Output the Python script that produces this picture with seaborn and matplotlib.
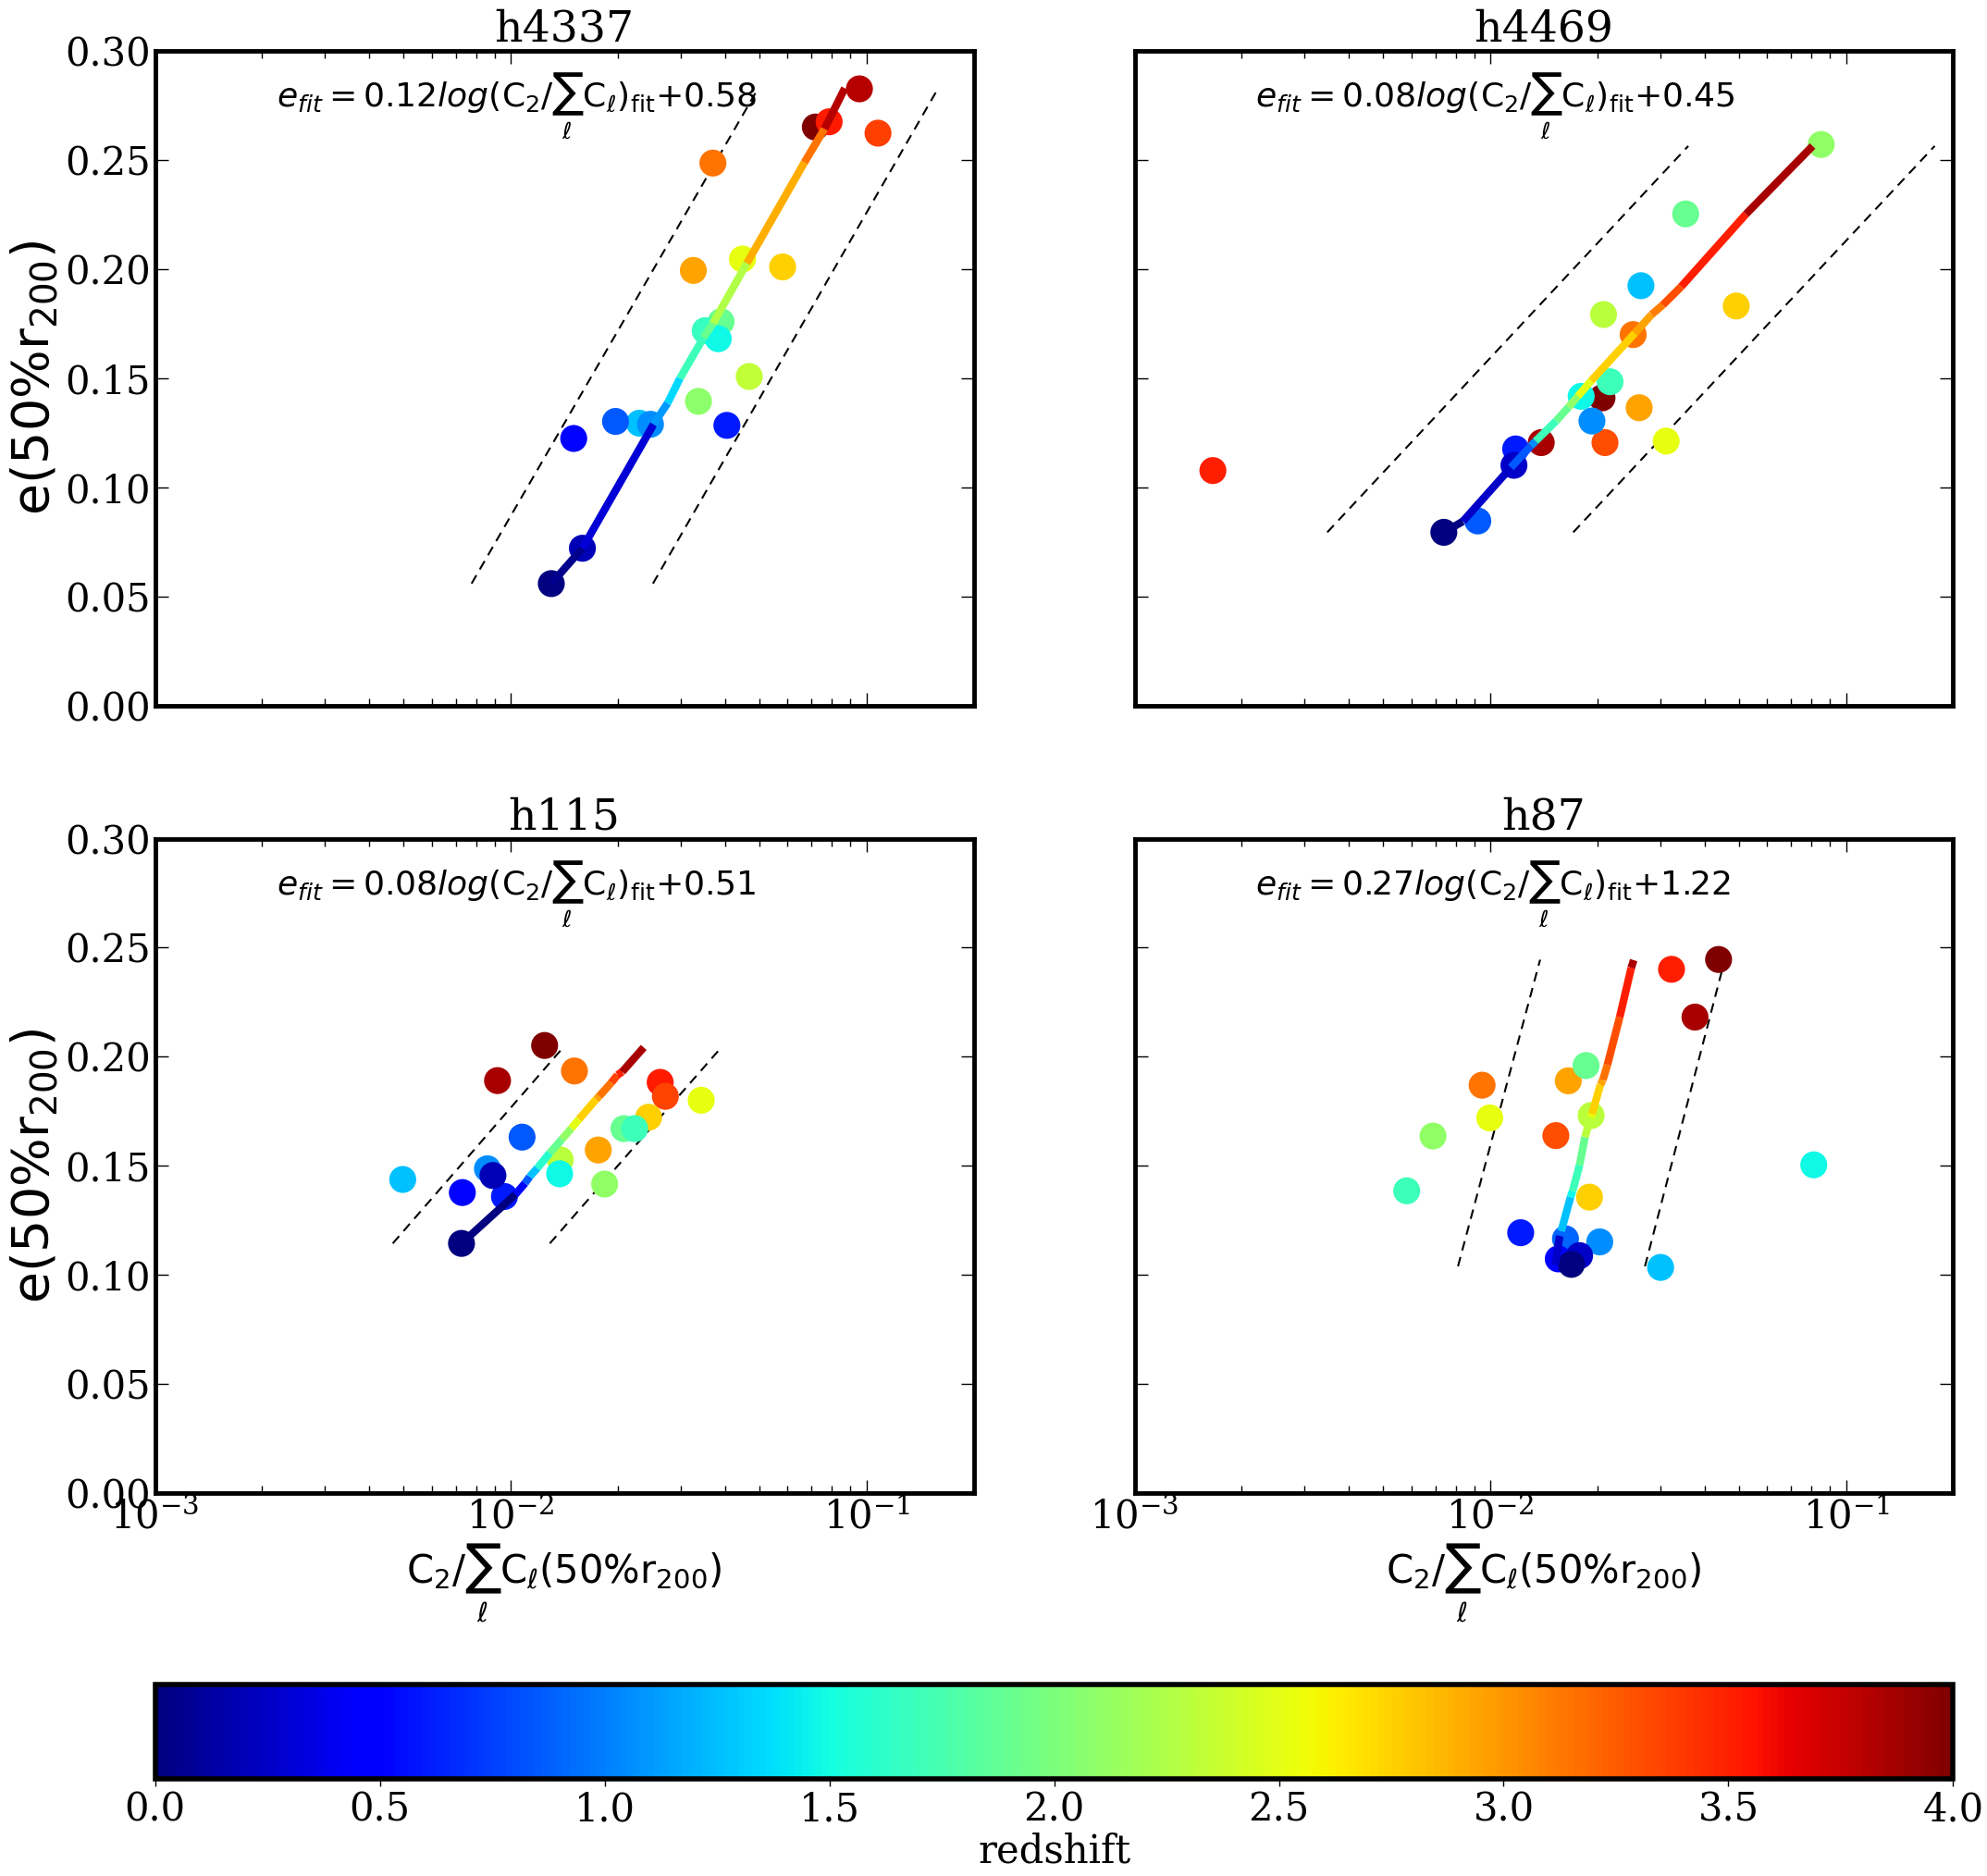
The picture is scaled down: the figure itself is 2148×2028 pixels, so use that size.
import numpy as np
import pandas as pd
import matplotlib
matplotlib.use("Agg")
import matplotlib.pyplot as plt
import seaborn as sns
from matplotlib.collections import LineCollection
from matplotlib.colors import Normalize
from matplotlib.cm import ScalarMappable
from matplotlib.ticker import MultipleLocator, FormatStrFormatter

# -----------------------------
# Data
# -----------------------------
panel_names = ["h4337", "h4469", "h115", "h87"]
fit_slopes = ["0.12", "0.08", "0.08", "0.27"]
fit_offsets = ["0.58", "0.45", "0.51", "1.22"]

# h4337
h4337_x = [0.0130, 0.0159, 0.01503, 0.0197, 0.0230, 0.0247, 0.0405, 0.0337, 0.0468, 0.0352,
           0.0383, 0.0390, 0.0326, 0.0448, 0.0581, 0.0370, 0.0718, 0.0785, 0.0955, 0.1077]
h4337_e = [0.0558, 0.0720, 0.1223, 0.1301, 0.1293, 0.1288, 0.1283, 0.1393, 0.1507, 0.1717,
           0.1680, 0.1758, 0.1993, 0.2045, 0.2009, 0.2485, 0.2650, 0.2674, 0.2825, 0.2622]
h4337_z = [0.0, 0.2, 0.5, 0.85, 1.25, 1.05, 0.6, 2.08, 2.33, 1.67,
           1.47, 1.9, 2.94, 2.52, 2.76, 3.15, 4.0, 3.53, 3.81, 3.37]
h4337_fit_x = [0.0130, 0.0159, 0.0252, 0.0276, 0.0299, 0.0348, 0.0370, 0.0461, 0.0669, 0.0762, 0.0869]
h4337_fit_e = [0.0558, 0.0720, 0.1288, 0.1385, 0.1499, 0.1685, 0.1750, 0.2026, 0.2488, 0.2642, 0.2828]
h4337_fit_z = [0.05, 0.3, 1.1, 1.35, 1.7, 1.9, 2.25, 2.9, 3.15, 3.8]
h4337_lo_x = [0.00776, 0.0493]
h4337_hi_x = [0.0251, 0.158]
h4337_band_e = [0.0558, 0.282]

# h4469
h4469_x = [0.00166, 0.0074, 0.00922, 0.01178, 0.01165, 0.0139, 0.0180, 0.0206, 0.0193, 0.0217,
           0.0210, 0.0208, 0.0252, 0.0262, 0.0265, 0.0312, 0.0354, 0.0491, 0.0851]
h4469_e = [0.1076, 0.0793, 0.0845, 0.1175, 0.1100, 0.1204, 0.1416, 0.1409, 0.1303, 0.1483,
           0.1204, 0.1791, 0.1699, 0.1364, 0.1923, 0.1211, 0.2252, 0.1830, 0.2570]
h4469_z = [3.5, 0.0, 0.85, 0.6, 0.25, 3.85, 1.47, 4.0, 1.05, 1.7,
           3.3, 2.3, 3.15, 2.95, 1.25, 2.52, 1.9, 2.76, 2.1]
h4469_fit_x = [0.00740, 0.00837, 0.01142, 0.0130, 0.0134, 0.0153, 0.0166, 0.0176,
               0.0192, 0.0255, 0.0284, 0.0305, 0.0344, 0.0523, 0.0805]
h4469_fit_e = [0.0793, 0.0843, 0.1090, 0.1189, 0.1211, 0.1303, 0.1367, 0.1416,
               0.1487, 0.1706, 0.1791, 0.1834, 0.1919, 0.2251, 0.2563]
h4469_fit_z = [0.0, 0.25, 0.85, 1.05, 1.7, 1.9, 2.1, 2.5, 2.75, 2.95, 3.1, 3.3, 3.5, 3.85]
h4469_lo_x = [0.00348, 0.0360]
h4469_hi_x = [0.0171, 0.1774]
h4469_band_e = [0.0793, 0.2563]

# h115
h115_x = [0.00497, 0.00731, 0.00727, 0.00860, 0.00891, 0.00960, 0.00918, 0.01076, 0.01245, 0.0151,
          0.01378, 0.01372, 0.01762, 0.01836, 0.0208, 0.0223, 0.0244, 0.0263, 0.0272, 0.0343]
h115_e = [0.1438, 0.1378, 0.1145, 0.1487, 0.1456, 0.1360, 0.1891, 0.1632, 0.2052, 0.1935,
          0.1528, 0.1464, 0.1573, 0.1417, 0.1671, 0.1671, 0.1723, 0.1883, 0.1819, 0.1801]
h115_z = [1.25, 0.5, 0.0, 1.05, 0.2, 0.6, 3.85, 0.85, 4.0, 3.15,
          2.3, 1.47, 2.95, 2.1, 1.9, 1.7, 2.75, 3.53, 3.35, 2.52]
h115_fit_x = [0.00727, 0.01030, 0.01097, 0.01130, 0.01188, 0.01288, 0.01394, 0.01480,
              0.01555, 0.01737, 0.01772, 0.01918, 0.01996, 0.02056, 0.02365]
h115_fit_e = [0.1145, 0.1369, 0.1421, 0.1451, 0.1490, 0.1560, 0.1623, 0.1672,
              0.1714, 0.1805, 0.1819, 0.1882, 0.1917, 0.1931, 0.2043]
h115_fit_z = [0.0, 0.5, 0.85, 1.25, 1.6, 1.9, 2.1, 2.5, 2.75, 2.95, 3.15, 3.35, 3.5, 3.85]
h115_lo_x = [0.00466, 0.01409]
h115_hi_x = [0.01288, 0.0392]
h115_band_e = [0.1145, 0.2046]

# h87
h87_x = [0.00582, 0.00690, 0.00948, 0.00996, 0.01217, 0.01528, 0.01656, 0.01858, 0.0192, 0.0190,
         0.01626, 0.01552, 0.01782, 0.0169, 0.0203, 0.0301, 0.0323, 0.0376, 0.0438, 0.0811]
h87_e = [0.1386, 0.1637, 0.1870, 0.1720, 0.1194, 0.1639, 0.1890, 0.1960, 0.1731, 0.1357,
         0.1166, 0.1074, 0.1089, 0.1049, 0.1152, 0.1035, 0.2401, 0.2182, 0.2446, 0.1505]
h87_z = [1.7, 2.1, 3.15, 2.52, 0.6, 3.3, 2.95, 1.9, 2.3, 2.75,
         0.9, 0.5, 0.25, 0.0, 1.05, 1.25, 3.5, 3.85, 4.0, 1.47]
h87_fit_x = [0.01521, 0.01567, 0.01582, 0.01680, 0.01703, 0.01782, 0.01845, 0.01913,
             0.01932, 0.02038, 0.02071, 0.02133, 0.02310, 0.02489, 0.02529]
h87_fit_e = [0.1046, 0.1180, 0.1201, 0.1357, 0.1385, 0.1505, 0.1632, 0.1723,
             0.1738, 0.1872, 0.1893, 0.1963, 0.2182, 0.2408, 0.2443]
h87_fit_z = [0.25, 0.9, 1.25, 1.47, 1.7, 1.9, 2.3, 2.52, 2.75, 2.95, 3.15, 3.3, 3.5, 3.85]
h87_lo_x = [0.00811, 0.01380]
h87_hi_x = [0.0272, 0.0456]
h87_band_e = [0.1040, 0.2445]

panels = [
    (h4337_x, h4337_e, h4337_z, h4337_fit_x, h4337_fit_e, h4337_fit_z, h4337_lo_x, h4337_hi_x, h4337_band_e),
    (h4469_x, h4469_e, h4469_z, h4469_fit_x, h4469_fit_e, h4469_fit_z, h4469_lo_x, h4469_hi_x, h4469_band_e),
    (h115_x, h115_e, h115_z, h115_fit_x, h115_fit_e, h115_fit_z, h115_lo_x, h115_hi_x, h115_band_e),
    (h87_x, h87_e, h87_z, h87_fit_x, h87_fit_e, h87_fit_z, h87_lo_x, h87_hi_x, h87_band_e),
]

cbar_ticks = [0.0, 0.5, 1.0, 1.5, 2.0, 2.5, 3.0, 3.5, 4.0]

# -----------------------------
# Style
# -----------------------------
sns.set_style("ticks")
plt.rcParams["font.family"] = ["DejaVu Serif"]
plt.rcParams["mathtext.fontset"] = "dejavusans"
plt.rcParams.update({
    "axes.edgecolor": "black",
    "axes.labelcolor": "black",
    "text.color": "black",
    "xtick.color": "black",
    "ytick.color": "black",
})

norm = Normalize(vmin=0, vmax=4)
cmap = plt.get_cmap("jet")

fig = plt.figure(figsize=(21.48, 20.28), dpi=100)

lefts = [0.078, 0.571, 0.078, 0.571]
bottoms = [0.624, 0.624, 0.204, 0.204]
w, h = 0.412, 0.349

for i, (px, pe, pz, fx, fe, fz, lo_x, hi_x, band_e) in enumerate(panels):
    ax = fig.add_axes([lefts[i], bottoms[i], w, h])

    df = pd.DataFrame({"x": px, "e": pe, "z": pz}).sort_values("z", ascending=False)
    sns.scatterplot(data=df, x="x", y="e", hue="z", palette=cmap, hue_norm=norm,
                    s=440, linewidth=0, legend=False, ax=ax, zorder=2)

    # fitted relation, coloured by redshift
    pts = np.column_stack([fx, fe])
    segs = np.stack([pts[:-1], pts[1:]], axis=1)
    lc = LineCollection(segs, cmap=cmap, norm=norm, linewidths=6, zorder=3)
    lc.set_array(np.array(fz))
    ax.add_collection(lc)

    # dashed envelope
    ax.plot(lo_x, band_e, color="k", ls="--", lw=1.5, dashes=(5, 3.5), zorder=1)
    ax.plot(hi_x, band_e, color="k", ls="--", lw=1.5, dashes=(5, 3.5), zorder=1)

    ax.set_xscale("log")
    ax.set_xlim(1e-3, 0.2)
    ax.set_ylim(0, 0.30)
    ax.yaxis.set_major_locator(MultipleLocator(0.05))
    ax.yaxis.set_major_formatter(FormatStrFormatter("%.2f"))

    ax.tick_params(which="both", direction="in", top=True, right=True, labelsize=30)
    ax.tick_params(which="major", length=10, width=1)
    ax.tick_params(which="minor", length=6, width=1)
    for sp in ax.spines.values():
        sp.set_linewidth(3.5)
        sp.set_color("black")

    ax.set_title(panel_names[i], fontsize=34, pad=4)

    txt = (r"$e_{fit} = " + fit_slopes[i] +
           r"log(\mathrm{C}_2/\sum_{\ell}\mathrm{C}_{\ell})_{\mathrm{fit}}$+" + fit_offsets[i])
    ax.text(0.148, 0.915, txt, transform=ax.transAxes, ha="left", va="center",
            fontsize=26, family="DejaVu Sans")

    if i % 2 == 0:
        ax.set_ylabel(r"e(50%r$_{200}$)", fontsize=40, family="DejaVu Sans")
    else:
        ax.set_ylabel("")
        ax.tick_params(labelleft=False)
    if i >= 2:
        ax.set_xlabel(r"C$_2$/$\sum_{\ell}$C$_{\ell}$(50%r$_{200}$)", fontsize=30,
                      family="DejaVu Sans")
    else:
        ax.set_xlabel("")
        ax.tick_params(labelbottom=False)

# -----------------------------
# Colorbar
# -----------------------------
cax = fig.add_axes([0.078, 0.052, 0.905, 0.050])
sm = ScalarMappable(norm=norm, cmap=cmap)
cb = fig.colorbar(sm, cax=cax, orientation="horizontal")
cb.set_ticks(cbar_ticks)
cb.ax.xaxis.set_major_formatter(FormatStrFormatter("%.1f"))
cb.ax.tick_params(labelsize=30, length=6, width=1)
cb.outline.set_linewidth(4)
cb.outline.set_edgecolor("black")
cb.set_label("redshift", fontsize=30, labelpad=2)

fig.savefig("out.png", dpi=100)
